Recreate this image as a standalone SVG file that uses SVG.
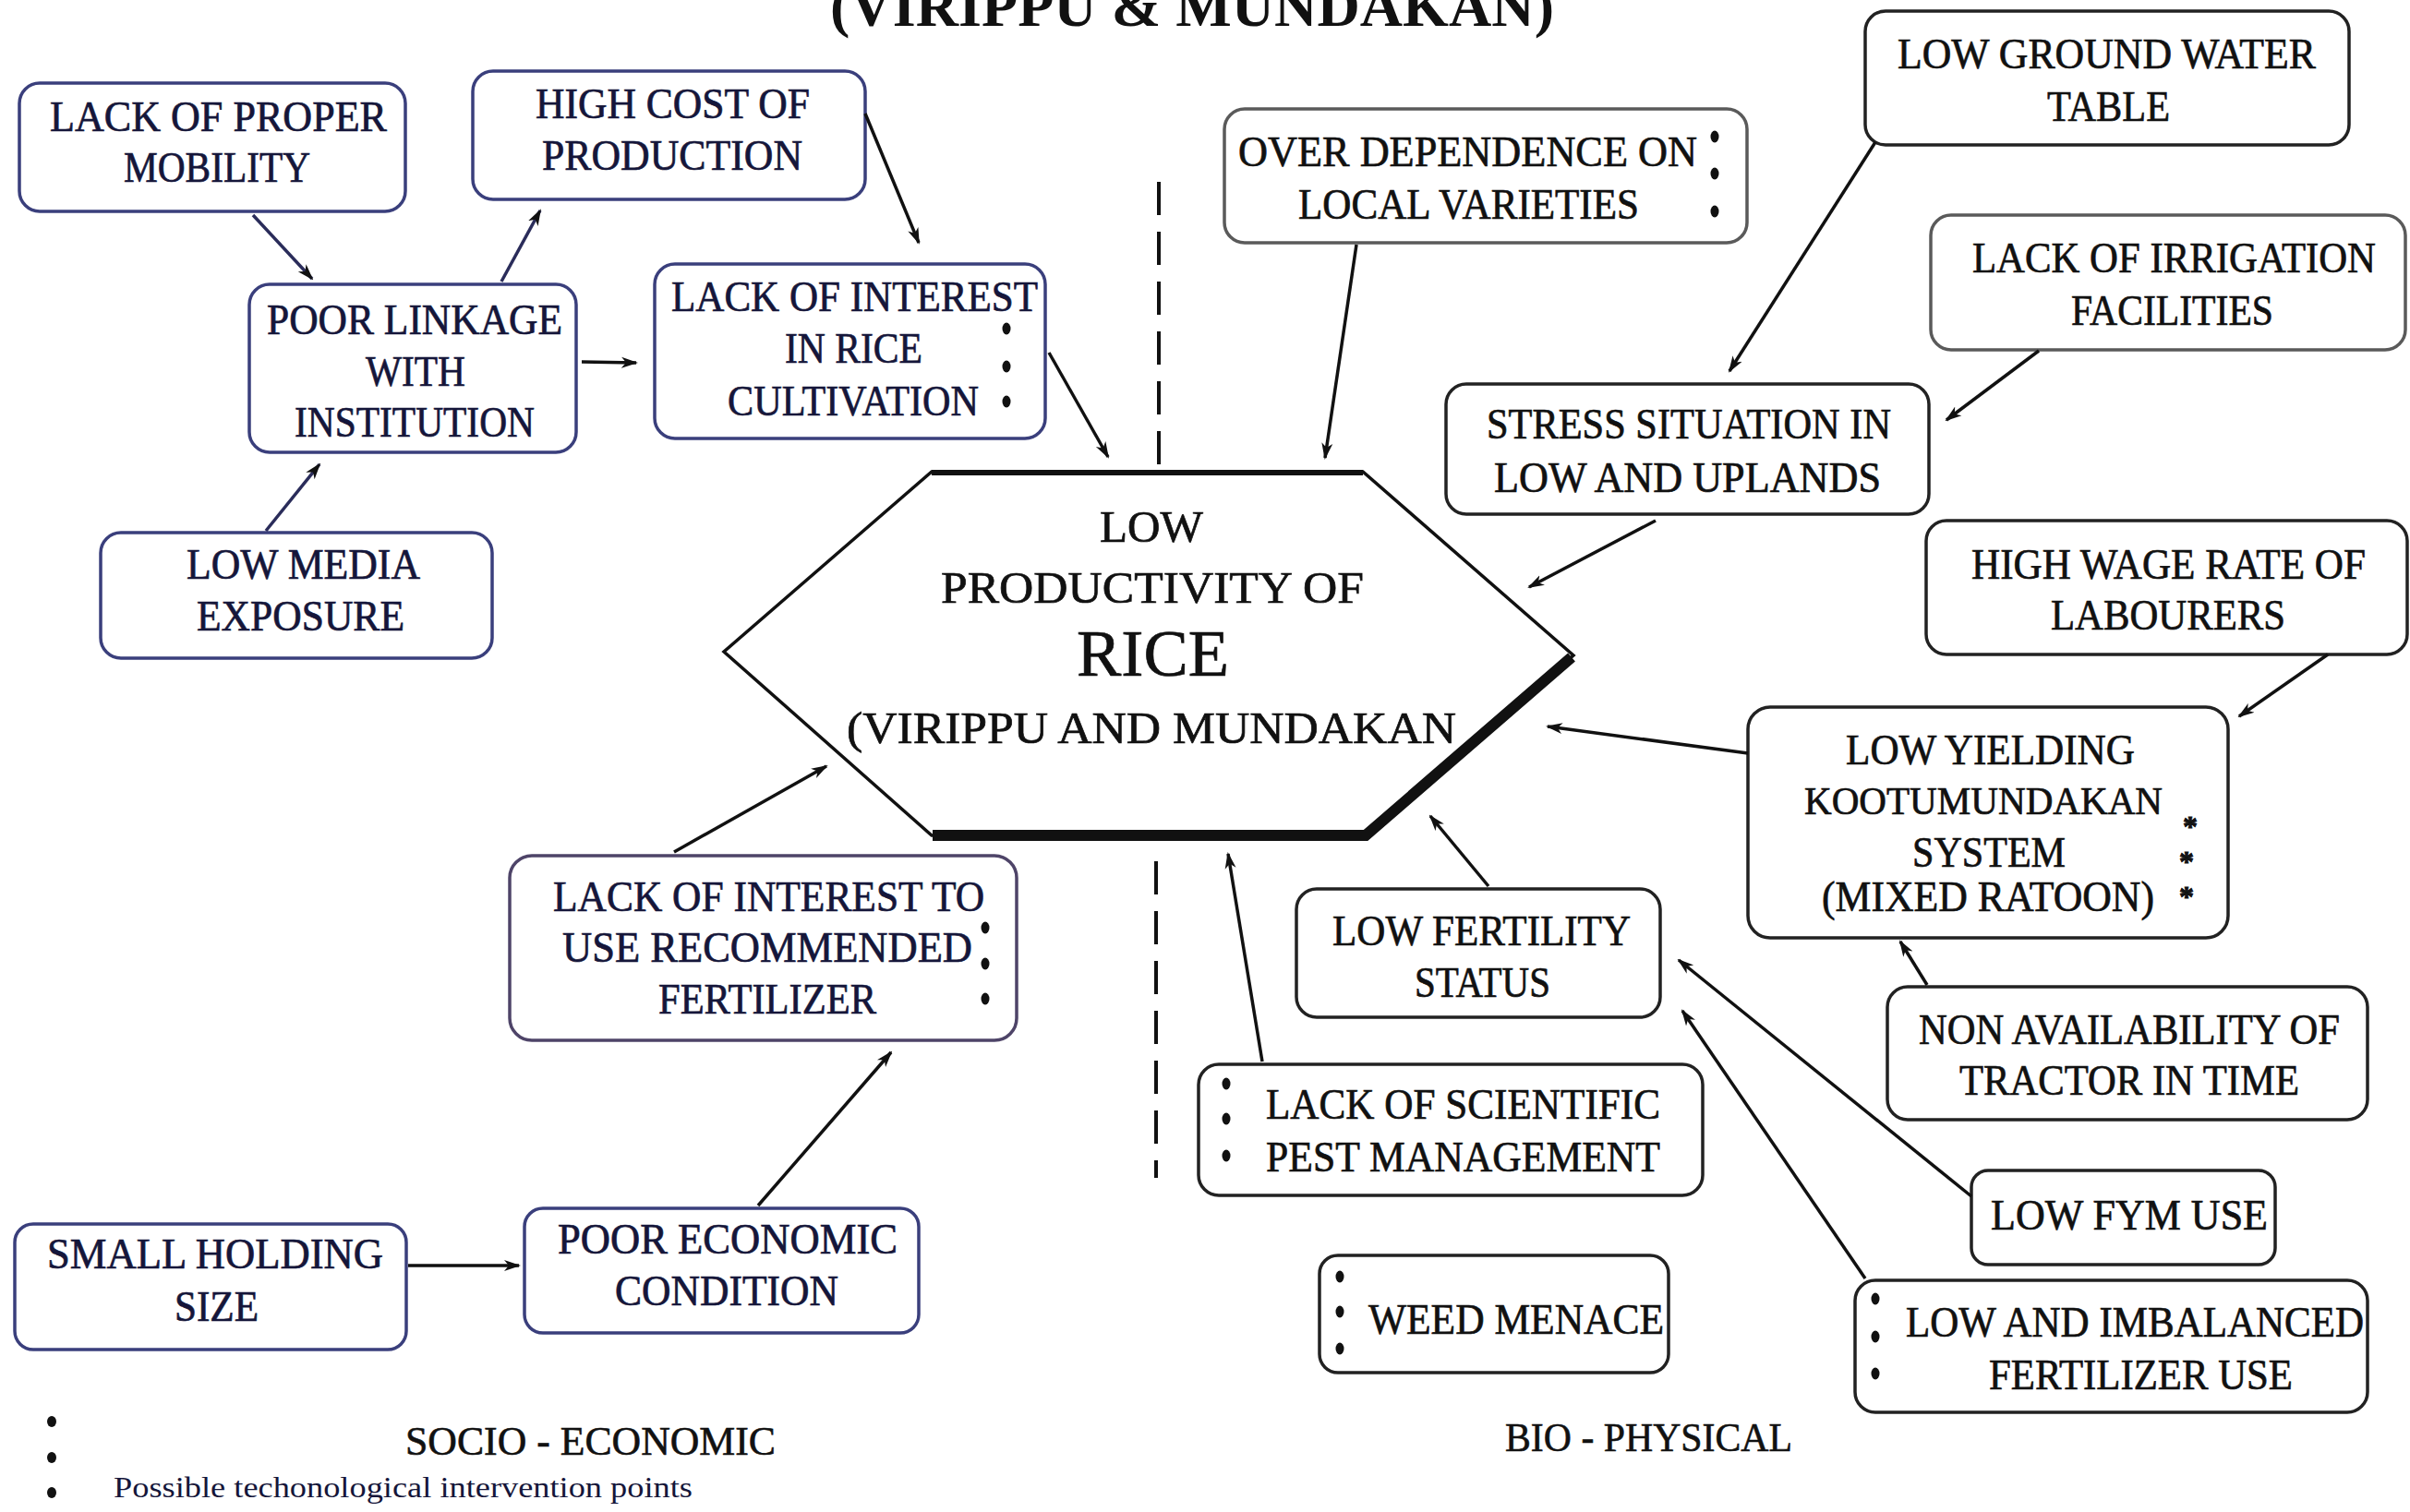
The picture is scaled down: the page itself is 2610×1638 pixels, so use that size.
<svg xmlns="http://www.w3.org/2000/svg" width="2610" height="1638" viewBox="0 0 2610 1638">
<defs>
<style>
.bx{fill:#fff;stroke:#222;stroke-width:3.5}
.bl{stroke:#3a3f7c}
.bp{stroke:#4e4468}
.bg{stroke:#5a5a5a}
.t{font-family:"Liberation Serif","Times New Roman",serif;font-size:46px;fill:#111;stroke:#111;stroke-width:0.7}
.tl{fill:#15163a;stroke:#15163a}
.h{font-family:"Liberation Serif","Times New Roman",serif;font-size:48px;fill:#111;stroke:#111;stroke-width:0.7}
.lab{font-family:"Liberation Serif","Times New Roman",serif;font-size:44px;fill:#111;stroke:#111;stroke-width:0.6}
.c{stroke:#111;stroke-width:3.5;fill:none;marker-end:url(#ah)}
.cl{stroke:#2a2c5a}
.dot{fill:#111}
.ast{font-family:"Liberation Serif","Times New Roman",serif;font-size:32px;font-weight:bold;fill:#111;stroke:#111;stroke-width:1;text-anchor:middle}
.dash{stroke:#111;stroke-width:4;stroke-dasharray:36 18;fill:none}
</style>
<marker id="ah" markerUnits="userSpaceOnUse" markerWidth="18" markerHeight="14" viewBox="0 0 18 14" refX="16" refY="7" orient="auto">
<path d="M0,1 L18,7 L0,13 L5,7 z" fill="#111"/>
</marker>
</defs>
<rect x="0" y="0" width="2610" height="1638" fill="#fff"/>

<text x="899" y="28" font-family="'Liberation Serif','Times New Roman',serif" font-size="64" font-weight="bold" fill="#111" textLength="784" lengthAdjust="spacingAndGlyphs">(VIRIPPU &amp; MUNDAKAN)</text>

<g id="dividers">
<line class="dash" x1="1255" y1="197" x2="1255" y2="510"/>
<line class="dash" x1="1252" y1="933" x2="1252" y2="1276"/>
</g>

<g id="center">
<polygon points="1009,511 1476,511 1704,710 1478,905 1009,905 784,706" fill="#fff" stroke="#111" stroke-width="3.5"/>
<line x1="1009" y1="512" x2="1476" y2="512" stroke="#111" stroke-width="6"/>
<path d="M1702,712 L1479,905 L1010,905" fill="none" stroke="#111" stroke-width="12"/>
<text class="h" x="1191" y="587" textLength="112" lengthAdjust="spacingAndGlyphs">LOW</text>
<text class="h" x="1019" y="653" textLength="458" lengthAdjust="spacingAndGlyphs">PRODUCTIVITY OF</text>
<text class="h" x="1166" y="732" style="font-size:72px" textLength="165" lengthAdjust="spacingAndGlyphs">RICE</text>
<text class="h" x="917" y="805" textLength="660" lengthAdjust="spacingAndGlyphs">(VIRIPPU AND MUNDAKAN</text>
</g>

<g id="n-mobility">
<rect class="bx bl" x="21" y="90" width="418" height="139" rx="22"/>
<text class="t tl" x="54" y="142" textLength="365" lengthAdjust="spacingAndGlyphs">LACK OF PROPER</text>
<text class="t tl" x="134" y="197" textLength="202" lengthAdjust="spacingAndGlyphs">MOBILITY</text>
</g>
<g id="n-highcost">
<rect class="bx bl" x="512" y="77" width="425" height="139" rx="22"/>
<text class="t tl" x="580" y="128" textLength="297" lengthAdjust="spacingAndGlyphs">HIGH COST OF</text>
<text class="t tl" x="587" y="184" textLength="282" lengthAdjust="spacingAndGlyphs">PRODUCTION</text>
</g>
<g id="n-linkage">
<rect class="bx bl" x="270" y="308" width="354" height="182" rx="22"/>
<text class="t tl" x="289" y="362" textLength="320" lengthAdjust="spacingAndGlyphs">POOR LINKAGE</text>
<text class="t tl" x="396" y="418" textLength="108" lengthAdjust="spacingAndGlyphs">WITH</text>
<text class="t tl" x="319" y="473" textLength="260" lengthAdjust="spacingAndGlyphs">INSTITUTION</text>
</g>
<g id="n-interest-rice">
<rect class="bx bl" x="709" y="286" width="423" height="189" rx="22"/>
<text class="t tl" x="727" y="337" textLength="397" lengthAdjust="spacingAndGlyphs">LACK OF INTEREST</text>
<text class="t tl" x="850" y="393" textLength="149" lengthAdjust="spacingAndGlyphs">IN RICE</text>
<text class="t tl" x="788" y="450" textLength="272" lengthAdjust="spacingAndGlyphs">CULTIVATION</text>
<ellipse class="dot" cx="1090" cy="356" rx="4.5" ry="6.5"/>
<ellipse class="dot" cx="1090" cy="397" rx="4.5" ry="6.5"/>
<ellipse class="dot" cx="1090" cy="435" rx="4.5" ry="6.5"/>
</g>
<g id="n-media">
<rect class="bx bl" x="109" y="577" width="424" height="136" rx="22"/>
<text class="t tl" x="202" y="627" textLength="253" lengthAdjust="spacingAndGlyphs">LOW MEDIA</text>
<text class="t tl" x="213" y="683" textLength="225" lengthAdjust="spacingAndGlyphs">EXPOSURE</text>
</g>
<g id="n-overdependence">
<rect class="bx bg" x="1326" y="118" width="566" height="145" rx="22"/>
<text class="t" x="1341" y="180" textLength="497" lengthAdjust="spacingAndGlyphs">OVER DEPENDENCE ON</text>
<text class="t" x="1406" y="237" textLength="369" lengthAdjust="spacingAndGlyphs">LOCAL VARIETIES</text>
<ellipse class="dot" cx="1857" cy="148" rx="4.5" ry="6.5"/>
<ellipse class="dot" cx="1857" cy="188" rx="4.5" ry="6.5"/>
<ellipse class="dot" cx="1857" cy="229" rx="4.5" ry="6.5"/>
</g>
<g id="n-groundwater">
<rect class="bx" x="2020" y="12" width="524" height="145" rx="22"/>
<text class="t" x="2055" y="74" textLength="453" lengthAdjust="spacingAndGlyphs">LOW GROUND WATER</text>
<text class="t" x="2217" y="131" textLength="133" lengthAdjust="spacingAndGlyphs">TABLE</text>
</g>
<g id="n-irrigation">
<rect class="bx bg" x="2091" y="233" width="514" height="146" rx="22"/>
<text class="t" x="2136" y="295" textLength="437" lengthAdjust="spacingAndGlyphs">LACK OF IRRIGATION</text>
<text class="t" x="2243" y="352" textLength="219" lengthAdjust="spacingAndGlyphs">FACILITIES</text>
</g>
<g id="n-stress">
<rect class="bx" x="1566" y="416" width="523" height="141" rx="22"/>
<text class="t" x="1610" y="475" textLength="438" lengthAdjust="spacingAndGlyphs">STRESS SITUATION IN</text>
<text class="t" x="1618" y="533" textLength="419" lengthAdjust="spacingAndGlyphs">LOW AND UPLANDS</text>
</g>
<g id="n-wage">
<rect class="bx" x="2086" y="564" width="521" height="145" rx="22"/>
<text class="t" x="2135" y="627" textLength="427" lengthAdjust="spacingAndGlyphs">HIGH WAGE RATE OF</text>
<text class="t" x="2221" y="682" textLength="254" lengthAdjust="spacingAndGlyphs">LABOURERS</text>
</g>
<g id="n-kootumundakan">
<rect class="bx" x="1893" y="766" width="520" height="250" rx="24"/>
<text class="t" x="1999" y="828" textLength="313" lengthAdjust="spacingAndGlyphs">LOW YIELDING</text>
<text class="t" x="1954" y="882" style="font-size:42px" textLength="388" lengthAdjust="spacingAndGlyphs">KOOTUMUNDAKAN</text>
<text class="t" x="2071" y="939" textLength="166" lengthAdjust="spacingAndGlyphs">SYSTEM</text>
<text class="t" x="1973" y="987" textLength="360" lengthAdjust="spacingAndGlyphs">(MIXED RATOON)</text>
<text class="ast" x="2372" y="906">*</text>
<text class="ast" x="2368" y="944">*</text>
<text class="ast" x="2368" y="982">*</text>
</g>
<g id="n-tractor">
<rect class="bx" x="2044" y="1069" width="520" height="144" rx="22"/>
<text class="t" x="2078" y="1131" textLength="456" lengthAdjust="spacingAndGlyphs">NON AVAILABILITY OF</text>
<text class="t" x="2122" y="1186" textLength="368" lengthAdjust="spacingAndGlyphs">TRACTOR IN TIME</text>
</g>
<g id="n-fertility">
<rect class="bx" x="1404" y="963" width="394" height="139" rx="22"/>
<text class="t" x="1443" y="1024" textLength="323" lengthAdjust="spacingAndGlyphs">LOW FERTILITY</text>
<text class="t" x="1532" y="1080" textLength="147" lengthAdjust="spacingAndGlyphs">STATUS</text>
</g>
<g id="n-pest">
<rect class="bx" x="1298" y="1153" width="546" height="142" rx="22"/>
<text class="t" x="1371" y="1212" textLength="427" lengthAdjust="spacingAndGlyphs">LACK OF SCIENTIFIC</text>
<text class="t" x="1371" y="1269" textLength="427" lengthAdjust="spacingAndGlyphs">PEST MANAGEMENT</text>
<ellipse class="dot" cx="1328" cy="1174" rx="4.5" ry="6.5"/>
<ellipse class="dot" cx="1328" cy="1212" rx="4.5" ry="6.5"/>
<ellipse class="dot" cx="1328" cy="1252" rx="4.5" ry="6.5"/>
</g>
<g id="n-fym">
<rect class="bx" x="2135" y="1268" width="329" height="102" rx="18"/>
<text class="t" x="2156" y="1332" textLength="300" lengthAdjust="spacingAndGlyphs">LOW FYM USE</text>
</g>
<g id="n-weed">
<rect class="bx" x="1429" y="1360" width="378" height="127" rx="20"/>
<text class="t" x="1482" y="1445" textLength="320" lengthAdjust="spacingAndGlyphs">WEED MENACE</text>
<ellipse class="dot" cx="1451" cy="1383" rx="4.5" ry="6.5"/>
<ellipse class="dot" cx="1451" cy="1421" rx="4.5" ry="6.5"/>
<ellipse class="dot" cx="1451" cy="1461" rx="4.5" ry="6.5"/>
</g>
<g id="n-imbalanced">
<rect class="bx" x="2009" y="1387" width="555" height="143" rx="22"/>
<text class="t" x="2064" y="1448" textLength="496" lengthAdjust="spacingAndGlyphs">LOW AND IMBALANCED</text>
<text class="t" x="2154" y="1505" textLength="329" lengthAdjust="spacingAndGlyphs">FERTILIZER USE</text>
<ellipse class="dot" cx="2031" cy="1407" rx="4.5" ry="6.5"/>
<ellipse class="dot" cx="2031" cy="1448" rx="4.5" ry="6.5"/>
<ellipse class="dot" cx="2031" cy="1488" rx="4.5" ry="6.5"/>
</g>
<g id="n-interest-fert">
<rect class="bx bp" x="552" y="927" width="549" height="200" rx="24"/>
<text class="t tl" x="599" y="987" textLength="467" lengthAdjust="spacingAndGlyphs">LACK OF INTEREST TO</text>
<text class="t tl" x="609" y="1042" textLength="444" lengthAdjust="spacingAndGlyphs">USE RECOMMENDED</text>
<text class="t tl" x="713" y="1098" textLength="236" lengthAdjust="spacingAndGlyphs">FERTILIZER</text>
<ellipse class="dot" cx="1067" cy="1005" rx="4.5" ry="6.5"/>
<ellipse class="dot" cx="1067" cy="1044" rx="4.5" ry="6.5"/>
<ellipse class="dot" cx="1067" cy="1082" rx="4.5" ry="6.5"/>
</g>
<g id="n-holding">
<rect class="bx bl" x="16" y="1326" width="424" height="136" rx="20"/>
<text class="t tl" x="51" y="1374" textLength="364" lengthAdjust="spacingAndGlyphs">SMALL HOLDING</text>
<text class="t tl" x="189" y="1431" textLength="91" lengthAdjust="spacingAndGlyphs">SIZE</text>
</g>
<g id="n-economic">
<rect class="bx bl" x="568" y="1309" width="427" height="135" rx="20"/>
<text class="t tl" x="604" y="1358" textLength="368" lengthAdjust="spacingAndGlyphs">POOR ECONOMIC</text>
<text class="t tl" x="666" y="1414" textLength="242" lengthAdjust="spacingAndGlyphs">CONDITION</text>
</g>

<g id="connectors">
<line class="c cl" x1="274" y1="233" x2="338" y2="302"/>
<line class="c cl" x1="543" y1="305" x2="585" y2="228"/>
<line class="c" x1="937" y1="123" x2="995" y2="263"/>
<line class="c" x1="630" y1="392" x2="689" y2="393"/>
<line class="c cl" x1="288" y1="575" x2="346" y2="503"/>
<line class="c" x1="1136" y1="382" x2="1200" y2="495"/>
<line class="c" x1="1469" y1="265" x2="1435" y2="496"/>
<line class="c" x1="2031" y1="154" x2="1873" y2="402"/>
<line class="c" x1="2208" y1="380" x2="2108" y2="455"/>
<line class="c" x1="1793" y1="564" x2="1656" y2="636"/>
<line class="c" x1="2521" y1="709" x2="2425" y2="776"/>
<line class="c" x1="1893" y1="816" x2="1676" y2="787"/>
<line class="c" x1="2087" y1="1067" x2="2058" y2="1020"/>
<line class="c" x1="1612" y1="960" x2="1549" y2="884"/>
<line class="c" x1="1367" y1="1150" x2="1330" y2="925"/>
<line class="c" x1="2135" y1="1296" x2="1818" y2="1040"/>
<line class="c" x1="2020" y1="1385" x2="1822" y2="1095"/>
<line class="c" x1="730" y1="923" x2="895" y2="830"/>
<line class="c" x1="821" y1="1306" x2="965" y2="1140"/>
<line class="c" x1="442" y1="1371" x2="562" y2="1371"/>
</g>

<g id="labels">
<text class="lab" x="439" y="1576" textLength="401" lengthAdjust="spacingAndGlyphs">SOCIO - ECONOMIC</text>
<text class="lab" x="1630" y="1572" textLength="311" lengthAdjust="spacingAndGlyphs">BIO - PHYSICAL</text>
<ellipse class="dot" cx="56" cy="1540" rx="5" ry="6"/>
<ellipse class="dot" cx="56" cy="1579" rx="5" ry="6"/>
<ellipse class="dot" cx="56" cy="1617" rx="5" ry="6"/>
<text x="123" y="1622" font-family="'Liberation Serif','Times New Roman',serif" font-size="32" fill="#15163a" textLength="627" lengthAdjust="spacingAndGlyphs">Possible techonological intervention points</text>
</g>
</svg>
